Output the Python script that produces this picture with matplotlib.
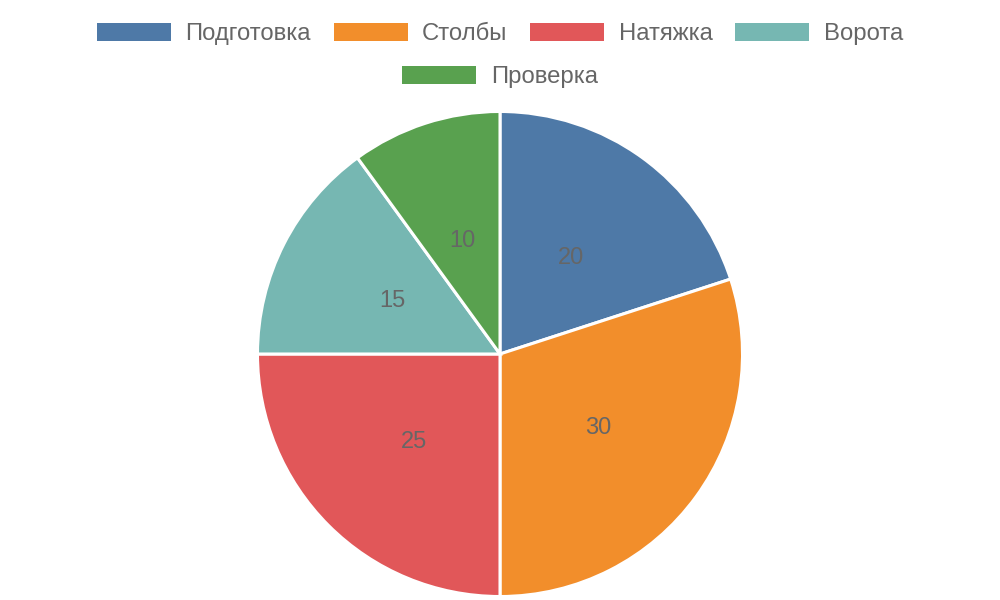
import matplotlib
matplotlib.use("Agg")
import matplotlib.pyplot as plt
from matplotlib.patches import Patch

plt.rcParams["font.family"] = ["Liberation Sans", "DejaVu Sans"]

stages = ["Подготовка", "Столбы", "Натяжка", "Ворота", "Проверка"]
shares = [20, 30, 25, 15, 10]
colors = ["#4e79a7", "#f28e2b", "#e15759", "#76b7b2", "#59a14f"]
text_color = "#666666"

fig = plt.figure(figsize=(10, 6), dpi=100)

# pie area: centre (500, 354) px, radius 243 px
ax = fig.add_axes([257 / 1000, 3 / 600, 486 / 1000, 486 / 600])
wedges, texts = ax.pie(
    shares,
    colors=colors,
    startangle=90,
    counterclock=False,
    radius=1.0,
    labels=[str(v) for v in shares],
    labeldistance=0.5,
    wedgeprops={"edgecolor": "white", "linewidth": 2.2},
    textprops={"color": text_color, "fontsize": 17},
)
for t in texts:
    t.set_horizontalalignment("center")
    t.set_verticalalignment("center_baseline")
ax.set_xlim(-1.002, 1.002)
ax.set_ylim(-1.002, 1.002)
ax.set_aspect("equal")
ax.axis("off")

handles = [Patch(facecolor=c, edgecolor="none") for c in colors]
common = dict(
    frameon=False,
    fontsize=17.2,
    handlelength=3.1,
    handleheight=0.83,
    handletextpad=0.6,
    columnspacing=0.95,
    labelcolor=text_color,
    borderaxespad=0,
    borderpad=0,
)
fig.legend(handles[:4], stages[:4], ncol=4, loc="center",
           bbox_to_anchor=(0.5, 1 - 34 / 600), **common)
fig.legend(handles[4:], stages[4:], ncol=1, loc="center",
           bbox_to_anchor=(0.5, 1 - 77 / 600), **common)

fig.savefig("out.png", dpi=100)
